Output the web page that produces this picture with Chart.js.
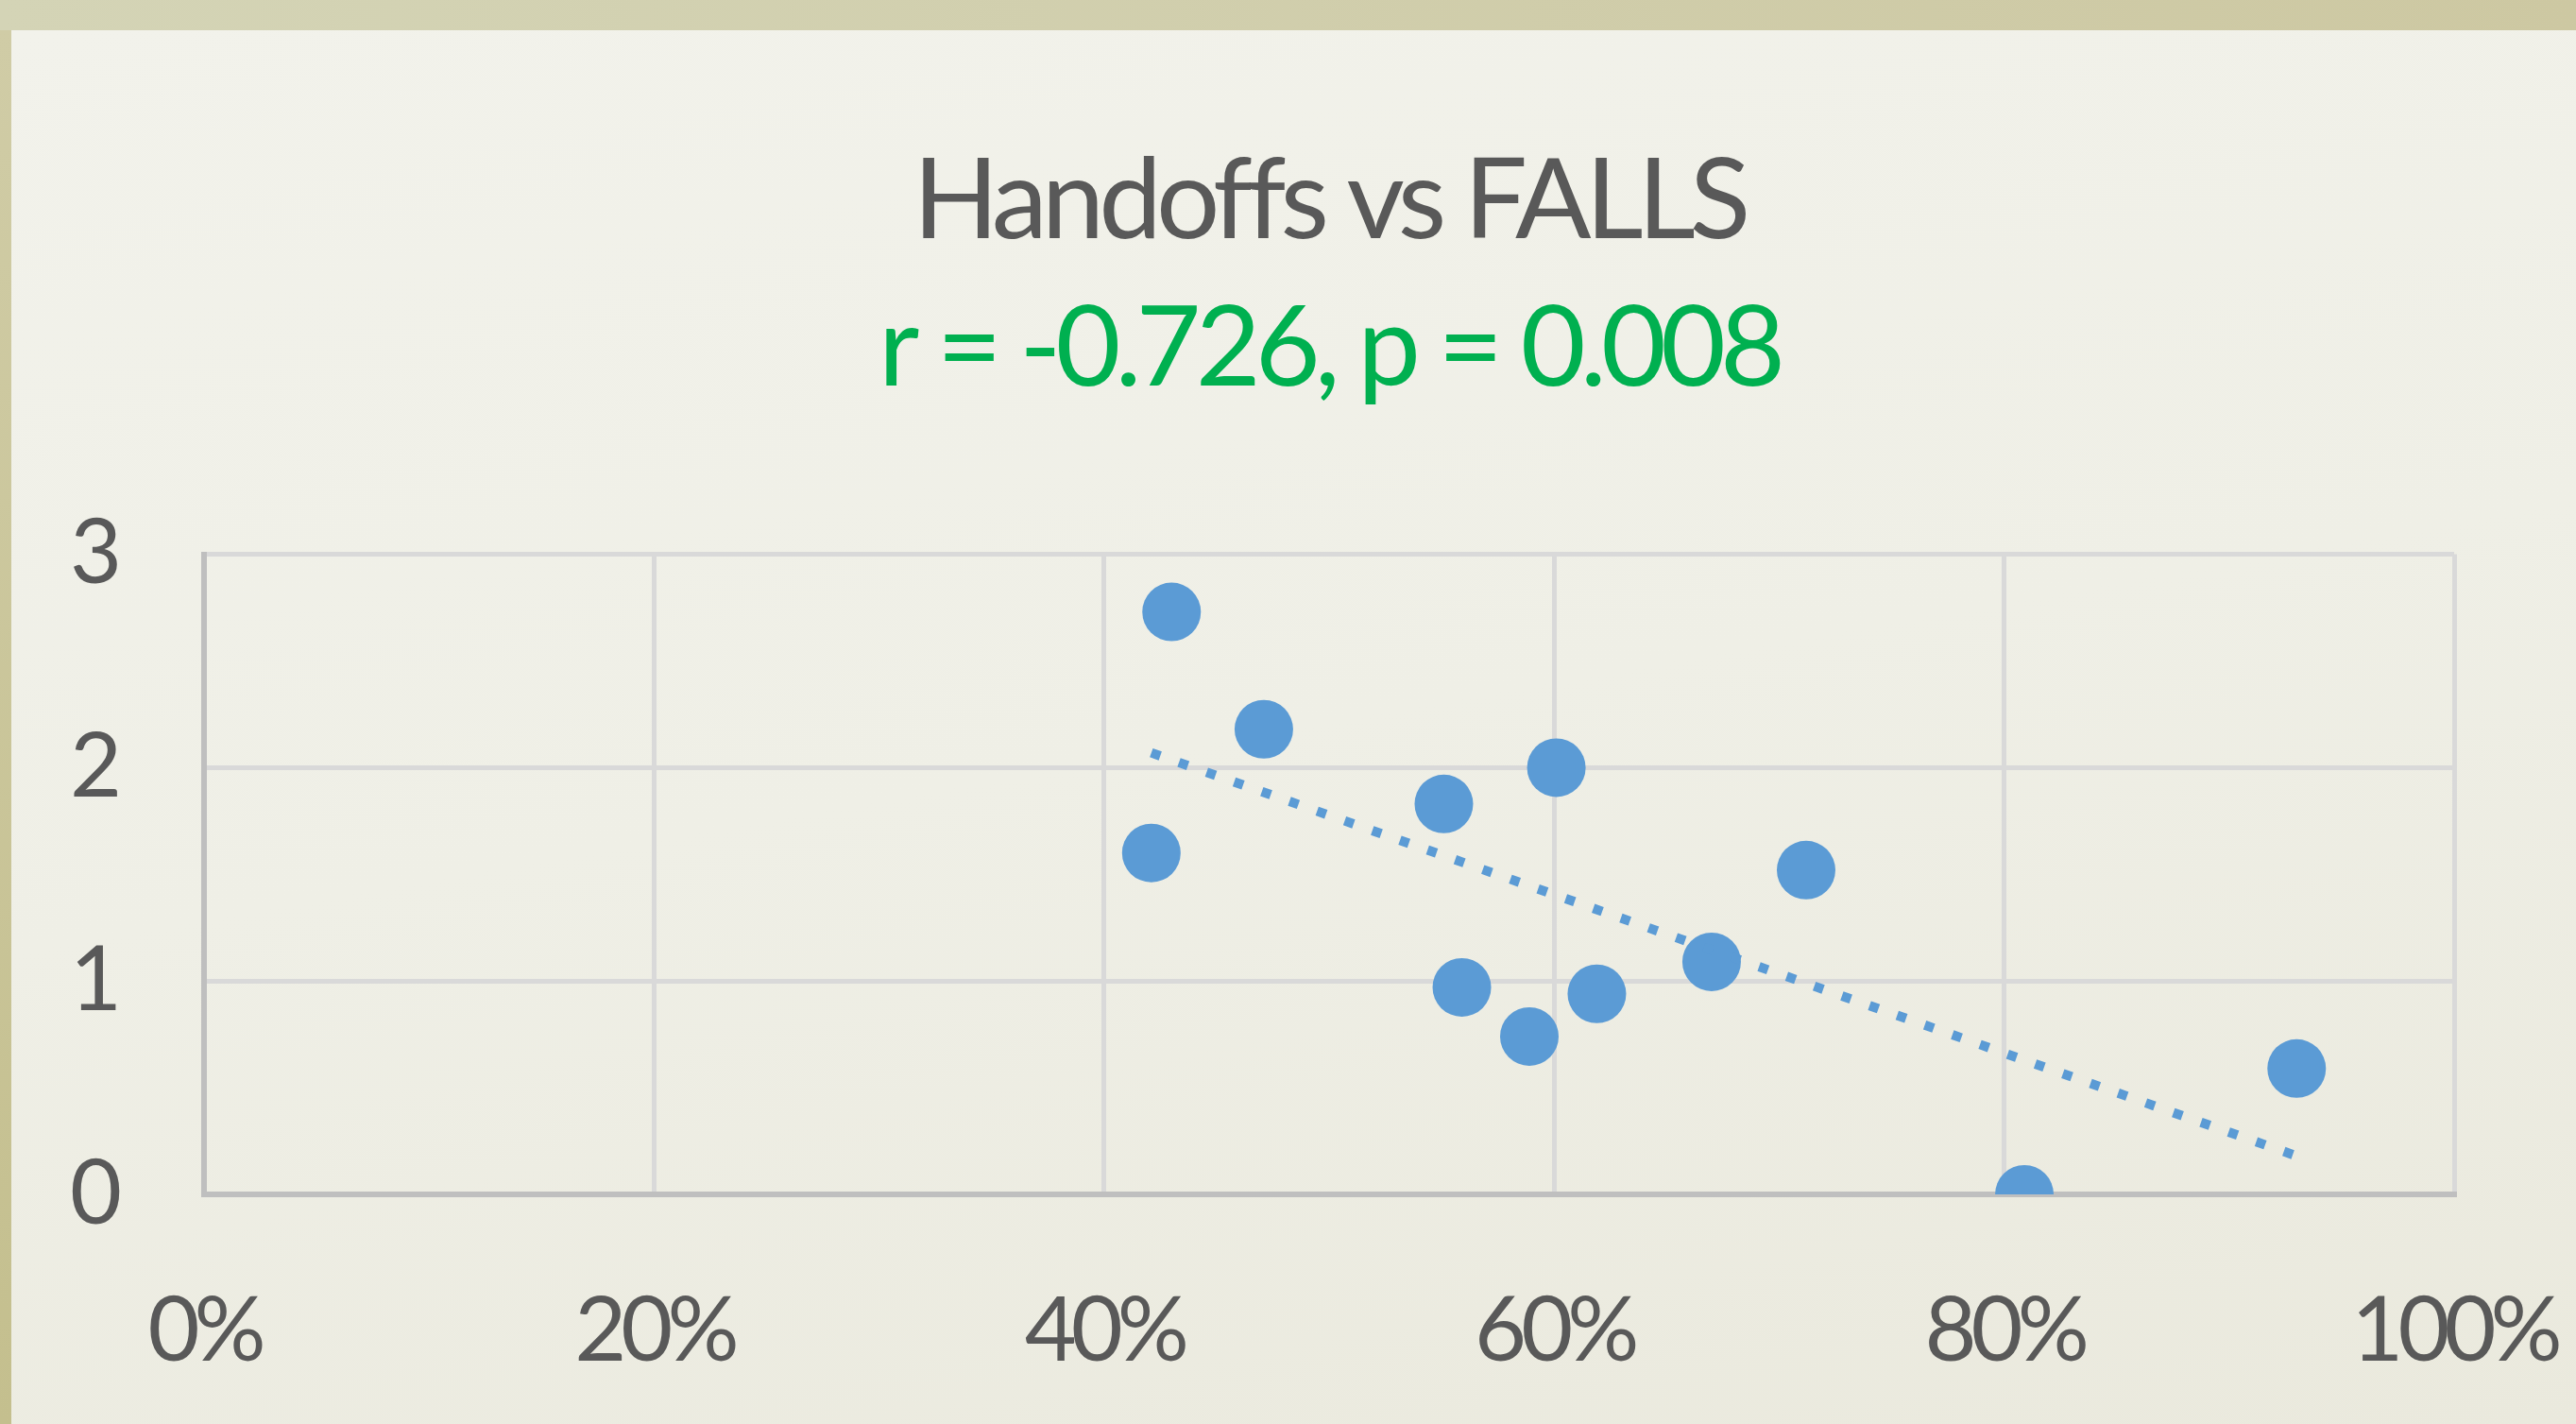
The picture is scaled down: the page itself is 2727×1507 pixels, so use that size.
<!DOCTYPE html>
<html>
<head>
<meta charset="utf-8">
<title>Handoffs vs FALLS</title>
<script src="https://cdn.jsdelivr.net/npm/chart.js@4.4.1/dist/chart.umd.min.js"></script>
<style>
  html, body {
    margin: 0;
    padding: 0;
    width: 2727px;
    height: 1507px;
    overflow: hidden;
    background: linear-gradient(to right, #d4d4b6, #cdc8a2);
  }
  #panel {
    position: absolute;
    left: 12px;
    top: 32px;
    width: 2715px;
    height: 1475px;
    background: linear-gradient(170deg, #f2f2eb 0%, #efefe6 50%, #eae9dd 100%);
  }
  #panel::before {
    content: "";
    position: absolute;
    left: -12px;
    top: 0;
    width: 12px;
    height: 1475px;
    background: linear-gradient(to bottom, #d0cca6, #c4bf8e);
  }
  #chart {
    display: block;
  }
</style>
</head>
<body>
<div id="panel">
  <canvas id="chart" width="2715" height="1475"></canvas>
</div>
<script>
  // handoff rate (%) vs falls
  const handoffs = [43.0, 47.1, 42.1, 55.1, 60.1, 71.2, 55.9, 58.9, 61.9, 67.0, 80.9, 93.0];
  const falls = [2.73, 2.18, 1.60, 1.83, 2.00, 1.52, 0.97, 0.74, 0.94, 1.09, 0.00, 0.59];

  // dotted linear trendline, endpoints as drawn
  const trendX = [42.1, 93.0];
  const trendY = [2.07, 0.18];

  const xTicks = [0, 20, 40, 60, 80, 100];
  const yTicks = [0, 1, 2, 3];

  const titleText = "Handoffs vs FALLS";
  const subtitleText = "r = -0.726, p = 0.008";

  const BLUE = "#5b9bd5";
  const TEXT = "#595959";
  const GRID = "#d9d9d9";
  const AXIS = "#bfbfbf";
  const FONT = "Lato, 'Open Sans', sans-serif";

  const points = handoffs.map((x, i) => ({ x, y: falls[i] }));
  const trend = trendX.map((x, i) => ({ x, y: trendY[i] }));

  // Lato runs wider than the original Calibri, tighten it a bit
  const tightText = {
    id: "tightText",
    beforeLayout(chart) {
      chart.ctx.letterSpacing = "-6px";
    },
    beforeDraw(chart) {
      chart.ctx.letterSpacing = "-6px";
    }
  };

  new Chart(document.getElementById("chart"), {
    type: "scatter",
    data: {
      datasets: [
        {
          label: "Falls",
          data: points,
          backgroundColor: BLUE,
          borderWidth: 0,
          pointRadius: 31,
          pointHoverRadius: 31,
          order: 2
        },
        {
          type: "line",
          label: "Trend",
          data: trend,
          borderColor: BLUE,
          borderWidth: 10,
          borderDash: [10, 21],
          borderCapStyle: "butt",
          pointRadius: 0,
          fill: false,
          tension: 0,
          order: 1
        }
      ]
    },
    plugins: [tightText],
    options: {
      responsive: false,
      animation: false,
      events: [],
      layout: {
        padding: { top: 0, left: 0, right: 129, bottom: 0 }
      },
      plugins: {
        legend: { display: false },
        tooltip: { enabled: false },
        title: {
          display: true,
          text: titleText,
          fullSize: false,
          color: TEXT,
          font: { family: FONT, size: 119, weight: "normal", lineHeight: 1.2 },
          padding: { top: 110, bottom: 13 }
        },
        subtitle: {
          display: true,
          text: subtitleText,
          fullSize: false,
          color: "#00b050",
          font: { family: FONT, size: 119, weight: "normal", lineHeight: 1.2 },
          padding: { top: 0, bottom: 146 }
        }
      },
      scales: {
        x: {
          type: "linear",
          min: 0,
          max: 100,
          afterBuildTicks: (scale) => {
            scale.ticks = xTicks.map((v) => ({ value: v }));
          },
          afterFit: (scale) => {
            scale.height = 243;
            scale.paddingLeft = 0;
            scale.paddingRight = 0;
          },
          grid: { color: GRID, lineWidth: 5, drawTicks: false },
          border: { color: AXIS, width: 6 },
          ticks: {
            color: TEXT,
            padding: 88,
            maxRotation: 0,
            font: { family: FONT, size: 95 },
            callback: (v) => v + "%"
          }
        },
        y: {
          type: "linear",
          min: 0,
          max: 3,
          afterBuildTicks: (scale) => {
            scale.ticks = yTicks.map((v) => ({ value: v }));
          },
          afterFit: (scale) => {
            scale.width = 204;
          },
          grid: { color: GRID, lineWidth: 5, drawTicks: false },
          border: { color: AXIS, width: 6 },
          ticks: {
            color: TEXT,
            padding: 93,
            font: { family: FONT, size: 95 }
          }
        }
      }
    }
  });
</script>
</body>
</html>
